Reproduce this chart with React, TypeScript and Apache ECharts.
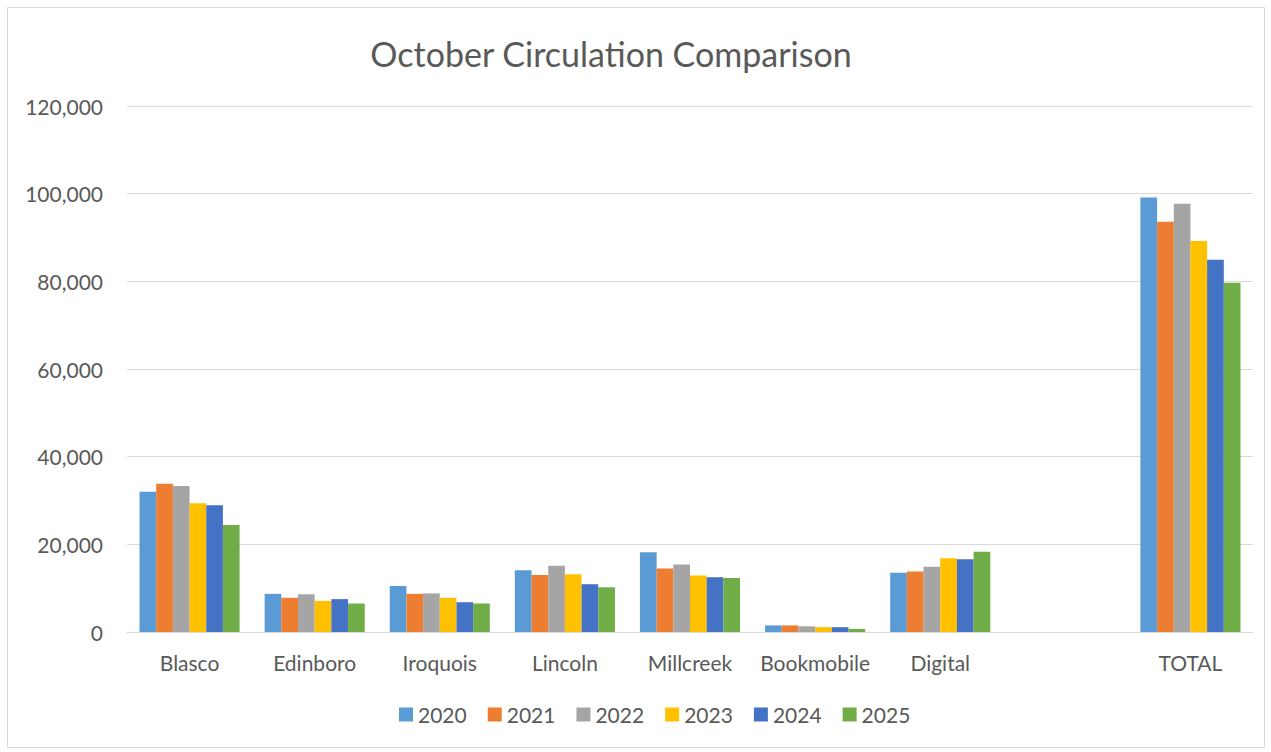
import React, { useEffect, useRef } from "react";
import * as echarts from "echarts";

const categories = ["Blasco", "Edinboro", "Iroquois", "Lincoln", "Millcreek", "Bookmobile", "Digital", "", "TOTAL"];
const years = ["2020", "2021", "2022", "2023", "2024", "2025"];
const colors = ["#5B9BD5", "#ED7D31", "#A5A5A5", "#FFC000", "#4472C4", "#70AD47"];

const v2020 = [32000, 8700, 10500, 14100, 18200, 1500, 13500, null, 99100];
const v2021 = [33800, 7800, 8700, 13000, 14500, 1500, 13800, null, 93600];
const v2022 = [33300, 8600, 8800, 15100, 15400, 1300, 14900, null, 97700];
const v2023 = [29400, 7100, 7800, 13200, 12900, 1100, 16800, null, 89200];
const v2024 = [28900, 7500, 6800, 10900, 12500, 1100, 16600, null, 84900];
const v2025 = [24400, 6500, 6500, 10200, 12300, 700, 18300, null, 79700];
const seriesValues = [v2020, v2021, v2022, v2023, v2024, v2025];

export default function App() {
  const ref = useRef<HTMLDivElement>(null);
  useEffect(() => {
    if (!ref.current) return;
    const chart = echarts.init(ref.current, null, { renderer: "svg" });
    const font = "Lato, 'Open Sans', sans-serif";
    chart.setOption({
      animation: false,
      backgroundColor: "#ffffff",
      textStyle: { fontFamily: font, color: "#595959" },
      graphic: [
        {
          type: "rect",
          shape: { x: 7.5, y: 7.5, width: 1257, height: 740 },
          style: { fill: "none", stroke: "#d9d9d9", lineWidth: 1 },
          silent: true,
        },
      ],
      title: {
        text: "October Circulation Comparison",
        left: 606,
        textAlign: "center",
        top: 31,
        textStyle: { fontFamily: font, fontSize: 34, fontWeight: "normal", color: "#595959" },
      },
      legend: {
        bottom: 22,
        left: 394,
        itemWidth: 14,
        itemHeight: 14,
        itemGap: 21,
        icon: "rect",
        textStyle: { fontFamily: font, fontSize: 21, color: "#595959" },
        data: years,
      },
      grid: { left: 127, right: 18, top: 106, bottom: 120, containLabel: false },
      xAxis: {
        type: "category",
        data: categories,
        axisLine: { lineStyle: { color: "#d9d9d9", width: 1 } },
        axisTick: { show: false },
        axisLabel: { fontFamily: font, fontSize: 21, color: "#595959", margin: 20, interval: 0 },
      },
      yAxis: {
        type: "value",
        min: 0,
        max: 120000,
        interval: 20000,
        axisLine: { show: false },
        axisTick: { show: false },
        splitLine: { lineStyle: { color: "#d9d9d9", width: 1 } },
        axisLabel: {
          fontFamily: font,
          fontSize: 21,
          color: "#595959",
          margin: 24,
          formatter: (v: number) => v.toLocaleString("en-US"),
        },
      },
      series: years.map((y, i) => ({
        name: y,
        type: "bar",
        data: seriesValues[i],
        barGap: "0%",
        barCategoryGap: "20%",
        itemStyle: { color: colors[i] },
      })),
    });
    return () => chart.dispose();
  }, []);
  return (
    <div
      ref={ref}
      style={{ position: "fixed", left: 0, top: 0, width: 1271, height: 752 }}
    />
  );
}
